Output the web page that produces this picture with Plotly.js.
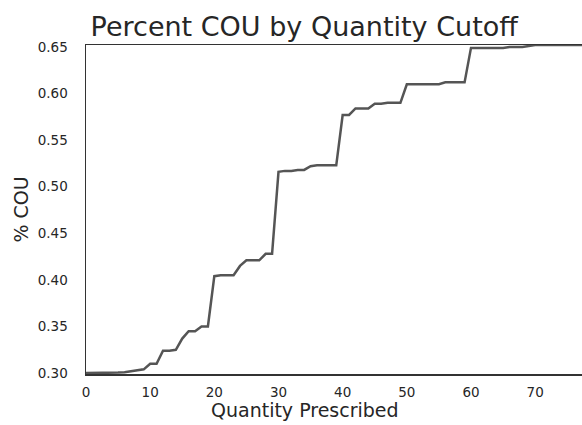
<!DOCTYPE html>
<html>
<head>
<meta charset="utf-8">
<script src="https://cdn.plot.ly/plotly-3.0.1.min.js"></script>
<style>html,body{margin:0;padding:0;overflow:hidden;background:#fff;}</style>
</head>
<body>
<div id="chart" style="width:582px;height:425px;"></div>
<script>
var quantity = [0,1,2,3,4,5,6,7,8,9,10,11,12,13,14,15,16,17,18,19,20,21,22,23,24,25,26,27,28,29,30,31,32,33,34,35,36,37,38,39,40,41,42,43,44,45,46,47,48,49,50,51,52,53,54,55,56,57,58,59,60,61,62,63,64,65,66,67,68,69,70,71,72,73,74,75,76,77,78];
var pctCOU = [0.300,0.300,0.300,0.300,0.3002,0.3005,0.301,0.302,0.303,0.304,0.310,0.310,0.324,0.324,0.325,0.337,0.345,0.345,0.350,0.350,0.404,0.405,0.405,0.405,0.415,0.421,0.421,0.421,0.428,0.428,0.516,0.517,0.517,0.518,0.518,0.522,0.523,0.523,0.523,0.523,0.577,0.577,0.584,0.584,0.584,0.589,0.589,0.590,0.590,0.590,0.610,0.610,0.610,0.610,0.610,0.610,0.612,0.612,0.612,0.612,0.649,0.649,0.649,0.649,0.649,0.649,0.650,0.650,0.650,0.651,0.652,0.652,0.652,0.652,0.652,0.652,0.652,0.652,0.652];
var xTicks = [0,10,20,30,40,50,60,70];
var yTicks = [0.30,0.35,0.40,0.45,0.50,0.55,0.60,0.65];
var yTickText = ['0.30','0.35','0.40','0.45','0.50','0.55','0.60','0.65'];

var font = 'DejaVu Sans, sans-serif';
var trace = {
  x: quantity, y: pctCOU, type: 'scatter', mode: 'lines',
  line: {color: '#555555', width: 2.5}, hoverinfo: 'none'
};
var layout = {
  width: 582, height: 425,
  margin: {l: 86, r: 0, t: 45, b: 51},
  paper_bgcolor: '#ffffff', plot_bgcolor: '#ffffff',
  showlegend: false,
  font: {family: font, color: '#262626'},
  title: {text: 'Percent COU by Quantity Cutoff', font: {family: font, size: 27, color: '#262626'},
    xref: 'paper', x: 0.44, xanchor: 'center', yref: 'container', y: 0.937, yanchor: 'middle'},
  xaxis: {
    range: [0, 77.3], tickvals: xTicks, showgrid: false, zeroline: false,
    showline: true, mirror: true, linecolor: '#333333', linewidth: 1.5,
    ticks: '', ticklabelstandoff: 5, tickfont: {family: font, size: 13.5, color: '#262626'}
  },
  yaxis: {
    range: [0.299, 0.6521], tickvals: yTicks, ticktext: yTickText, showgrid: false, zeroline: false,
    showline: true, linecolor: '#333333', linewidth: 1.5,
    ticks: '', ticklabelstandoff: 14, tickfont: {family: font, size: 13.5, color: '#262626'},
    title: {text: '% COU', font: {family: font, size: 19, color: '#262626'}, standoff: 4}
  },
  annotations: [{
    text: 'Quantity Prescribed', xref: 'paper', yref: 'paper', x: 0.441, y: -0.11,
    xanchor: 'center', yanchor: 'middle', showarrow: false,
    font: {family: font, size: 19, color: '#262626'}
  }]
};
Plotly.newPlot('chart', [trace], layout, {staticPlot: true, displayModeBar: false});
</script>
</body>
</html>
